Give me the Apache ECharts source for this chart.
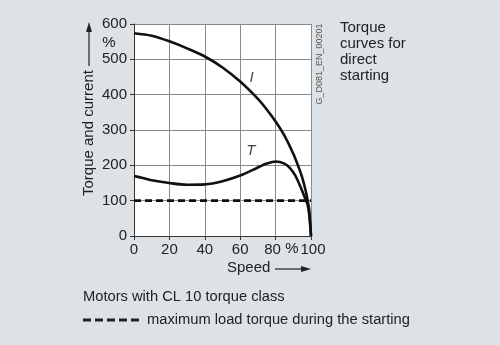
<!DOCTYPE html>
<html><head><meta charset="utf-8">
<script src="https://cdn.jsdelivr.net/npm/echarts@6/dist/echarts.min.js"></script>
<style>html,body{margin:0;padding:0;background:#dde2e6}#c{width:500px;height:345px}</style>
</head><body><div id="c"></div>
<script>
// Speed (%) and values (%)
const currentSpeed = [0, 10, 20, 30, 40, 50, 60, 70, 75, 80, 85, 90, 93, 95, 97, 98, 99, 100];
const currentValues = [574, 567, 551, 531, 508, 477, 437, 388, 358, 324, 284, 233, 195, 166, 128, 103, 73, 0];
const torqueSpeed = [0, 5, 10, 20, 30, 40, 50, 60, 70, 75, 80, 85, 88, 91, 94, 96, 98, 99, 100];
const torqueValues = [170, 164, 158, 150, 145, 146, 155, 171, 194, 205, 211, 205, 193, 172, 140, 115, 90, 60, 0];
const loadSpeed = [0, 100];
const loadValues = [100, 100];
const curveLabels = [['I', 66.5, 449], ['T', 66, 241]];
const xTicks = [0, 20, 40, 60, 80, 100];
const yTicks = [0, 100, 200, 300, 400, 500, 600];

const font = 'Liberation Sans, Arial, sans-serif';
const chart = echarts.init(document.getElementById('c'), null, {renderer: 'canvas'});
const zip = (a, b) => a.map((v, i) => [v, b[i]]);
chart.setOption({
  backgroundColor: '#dde2e6',
  animation: false,
  grid: {left: 134, right: 189, top: 24, bottom: 109, backgroundColor: '#ffffff', show: true, borderWidth: 0},
  xAxis: {
    type: 'value', min: xTicks[0], max: xTicks[xTicks.length - 1], interval: 20,
    axisLine: {show: true, lineStyle: {color: '#333', width: 1}},
    axisTick: {show: true, length: 4, lineStyle: {color: '#333'}},
    axisLabel: {color: '#222', fontSize: 15, fontFamily: font, margin: 6,
      formatter: v => v === 80 ? '{l|80}' : (v === 100 ? '{r|100}' : String(v)),
      rich: {
        l: {fontSize: 15, fontFamily: font, color: '#222', padding: [0, 6, 0, 0]},
        r: {fontSize: 15, fontFamily: font, color: '#222', padding: [0, 0, 0, 4]}
      }},
    splitLine: {show: true, lineStyle: {color: '#8a8a8a', width: 1}}
  },
  yAxis: {
    type: 'value', min: yTicks[0], max: yTicks[yTicks.length - 1], interval: 100,
    axisLine: {show: true, lineStyle: {color: '#333', width: 1}},
    axisTick: {show: true, length: 4, lineStyle: {color: '#333'}},
    axisLabel: {color: '#222', fontSize: 15, fontFamily: font, margin: 7},
    splitLine: {show: true, lineStyle: {color: '#8a8a8a', width: 1}}
  },
  series: [
    {type: 'line', data: zip(currentSpeed, currentValues), smooth: 0.3, symbol: 'none',
     lineStyle: {color: '#111', width: 2.6}, z: 3},
    {type: 'line', data: zip(torqueSpeed, torqueValues), smooth: 0.3, symbol: 'none',
     lineStyle: {color: '#111', width: 2.6}, z: 3},
    {type: 'line', data: zip(loadSpeed, loadValues), symbol: 'none',
     lineStyle: {color: '#111', width: 2.6, type: [7, 4]}, z: 2},
    {type: 'scatter', symbolSize: 0, data: curveLabels.map(d => [d[1], d[2], d[0]]),
     label: {show: true, position: 'inside', formatter: p => p.data[2], color: '#111',
       fontSize: 15, fontStyle: 'italic', fontFamily: font}, z: 4}
  ],
  graphic: [
    {type: 'text', x: 109, y: 43, style: {text: '%', font: '15px ' + font, fill: '#222', align: 'center', verticalAlign: 'middle'}},
    {type: 'text', x: 292, y: 249, style: {text: '%', font: '15px ' + font, fill: '#222', align: 'center', verticalAlign: 'middle'}},
    // y axis name
    {type: 'text', x: 89, y: 196, rotation: Math.PI / 2, style: {text: 'Torque and current', font: '15px ' + font, fill: '#222', align: 'left', verticalAlign: 'middle'}},
    {type: 'line', shape: {x1: 89, y1: 66, x2: 89, y2: 30}, style: {stroke: '#222', lineWidth: 1.2}},
    {type: 'polygon', shape: {points: [[89, 22], [86, 32], [92, 32]]}, style: {fill: '#222'}},
    // x axis name
    {type: 'text', x: 227, y: 268, style: {text: 'Speed', font: '15px ' + font, fill: '#222', align: 'left', verticalAlign: 'middle'}},
    {type: 'line', shape: {x1: 275, y1: 269, x2: 302, y2: 269}, style: {stroke: '#222', lineWidth: 1.2}},
    {type: 'polygon', shape: {points: [[311, 269], [301, 266], [301, 272]]}, style: {fill: '#222'}},
    // side texts
    {type: 'text', x: 320, y: 64, rotation: Math.PI / 2, style: {text: 'G_D081_EN_00201', font: '9px ' + font, fill: '#555', align: 'center', verticalAlign: 'middle'}},
    {type: 'text', x: 340, y: 20, style: {text: 'Torque\ncurves for\ndirect\nstarting', font: '15px ' + font, lineHeight: 16, fill: '#222', align: 'left', verticalAlign: 'top'}},
    {type: 'text', x: 83, y: 297, style: {text: 'Motors with CL 10 torque class', font: '14.7px ' + font, fill: '#222', align: 'left', verticalAlign: 'middle'}},
    {type: 'line', shape: {x1: 83, y1: 320, x2: 140, y2: 320}, style: {stroke: '#222', lineWidth: 3, lineDash: [8, 4]}},
    {type: 'text', x: 147, y: 320, style: {text: 'maximum load torque during the starting', font: '14.7px ' + font, fill: '#222', align: 'left', verticalAlign: 'middle'}}
  ]
});
</script></body></html>
